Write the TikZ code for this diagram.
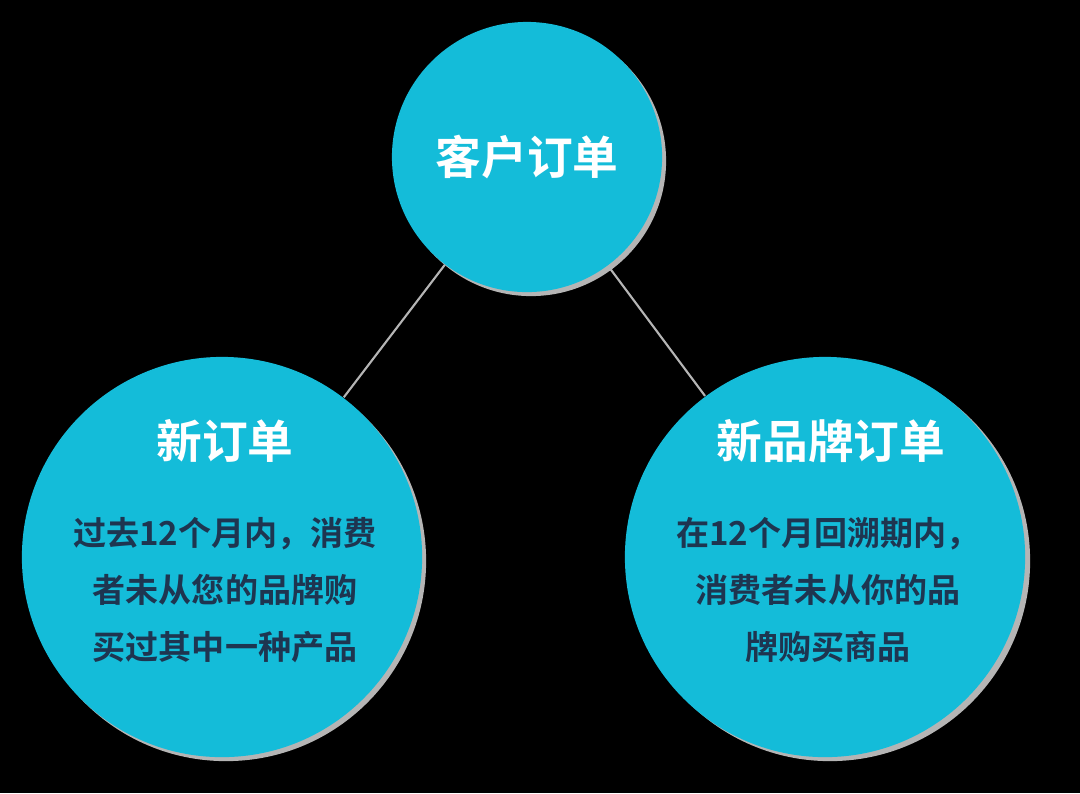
\documentclass[tikz,border=0pt]{standalone}
\usepackage{fontspec}
\newfontfamily\cjk{Noto Sans CJK SC Bold}
\definecolor{cy}{HTML}{14BCD9}
\definecolor{nv}{HTML}{1E3550}
\definecolor{sh}{HTML}{B5B5B5}
\begin{document}
\begin{tikzpicture}[x=0.01cm,y=-0.01cm,
  bub/.style={circle,fill=cy,inner sep=0pt},
  shd/.style={circle,fill=sh,inner sep=0pt},
  ttl/.style={text=white,font=\cjk\fontsize{13}{15}\selectfont},
  bdy/.style={text=nv,font=\cjk\fontsize{9.4}{16.2}\selectfont,align=center},
  con/.style={draw=sh,line width=0.6pt}]
\fill[black] (0,0) rectangle (1080,793);
\node[shd,minimum size=270\pgflinewidth*0+7.62cm*0+2.70cm] at (531,161) {};
\node[shd,minimum size=4.00cm] at (226,561) {};
\node[shd,minimum size=4.00cm] at (830,561) {};
\node[bub,minimum size=2.70cm] (top) at (527,157) {};
\node[bub,minimum size=4.00cm] (l) at (222,557) {};
\node[bub,minimum size=4.00cm] (r) at (825,557) {};
\draw[con] (top) -- (l);
\draw[con] (top) -- (r);
\node[ttl] at (527,157) {客户订单};
\node[ttl] at (225,441) {新订单};
\node[ttl] at (831,441) {新品牌订单};
\node[bdy] at (225,590) {过去12个月内，消费\\者未从您的品牌购\\买过其中一种产品};
\node[bdy] at (828,590) {在12个月回溯期内，\\消费者未从你的品\\牌购买商品};
\end{tikzpicture}
\end{document}
